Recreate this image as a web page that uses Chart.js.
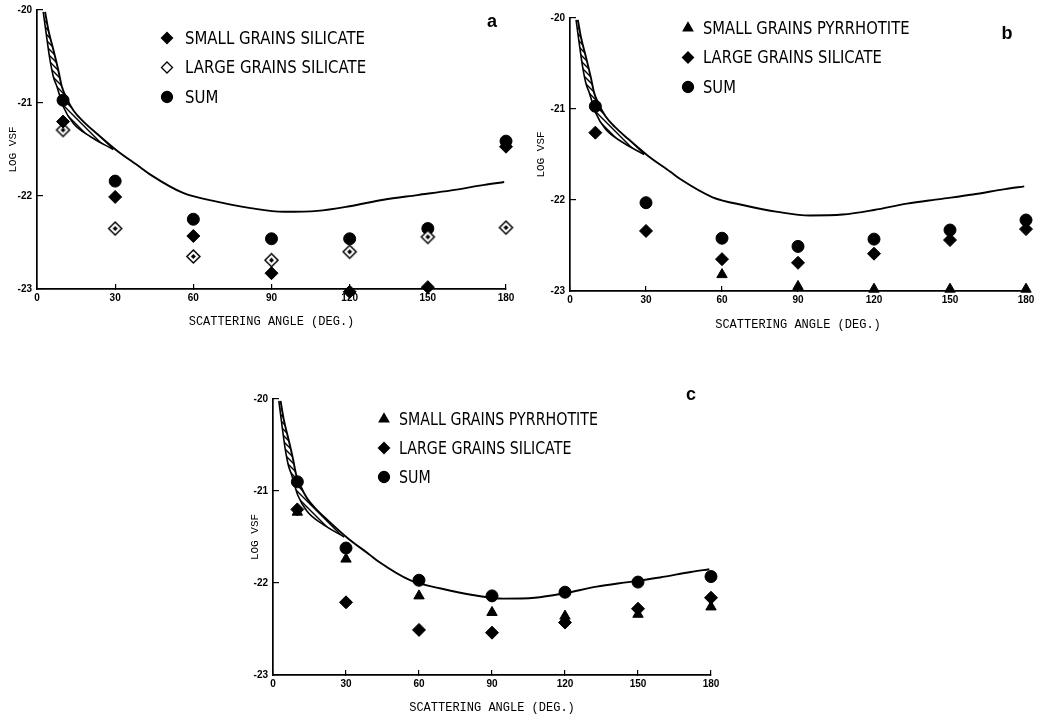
<!DOCTYPE html>
<html>
<head>
<meta charset="utf-8">
<script src="https://cdn.jsdelivr.net/npm/chart.js@4.4.1/dist/chart.umd.min.js"></script>
<style>
  html, body { margin: 0; padding: 0; background: #fff; }
  body { width: 1054px; height: 718px; position: relative; overflow: hidden; }
  canvas { position: absolute; }
</style>
</head>
<body>
<canvas id="chartA" width="530" height="335" style="left:0;top:0"></canvas>
<canvas id="chartB" width="534" height="335" style="left:520px;top:0"></canvas>
<canvas id="chartC" width="500" height="348" style="left:230px;top:370px"></canvas>
<script>
// Angles where the model points sit
const angles = [10, 30, 60, 90, 120, 150, 180];
const xTicks = [0, 30, 60, 90, 120, 150, 180];
const yTicks = [-23, -22, -21, -20];

// Panel a
const aSmallSilicate = [-21.20, -22.01, -22.43, -22.83, -23.03, -22.98, -21.47];
const aLargeSilicate = [-21.29, -22.35, -22.65, -22.69, -22.60, -22.44, -22.34];
const aSum = [-20.97, -21.84, -22.25, -22.46, -22.46, -22.35, -21.41];

// Panel b
const bSmallPyrrhotite = [null, null, -22.82, -22.95, -22.98, -22.98, -22.98];
const bLargeSilicate = [-21.26, -22.34, -22.65, -22.69, -22.59, -22.44, -22.32];
const bSum = [-20.97, -22.03, -22.42, -22.51, -22.43, -22.33, -22.22];

// Panel c
const cSmallPyrrhotite = [-21.23, -21.74, -22.14, -22.32, -22.36, -22.34, -22.26];
const cLargeSilicate = [-21.20, -22.21, -22.51, -22.54, -22.43, -22.28, -22.16];
const cSum = [-20.90, -21.62, -21.97, -22.14, -22.10, -21.99, -21.93];

// Observed VSF curve (upper edge of the hatched band at small angles)
const curveAngle = [3.1, 4.4, 6.3, 8.2, 9.5, 11.4, 14, 17.8, 23, 30.6, 39.6, 43.5, 56.3, 69, 82, 94.7, 107.6, 120, 133, 146, 159, 171.7, 179.3];
const curveLog = [-20.02, -20.22, -20.43, -20.65, -20.82, -20.95, -21.08, -21.20, -21.33, -21.51, -21.69, -21.77, -21.97, -22.06, -22.13, -22.17, -22.16, -22.11, -22.04, -21.99, -21.94, -21.88, -21.85];

// Lower edge of the hatched band
const bandAngle = [2.4, 3.7, 5, 6.3, 7.6, 10.1, 14, 20.4, 29.3];
const bandLow = [-20.02, -20.29, -20.54, -20.72, -20.82, -21.04, -21.22, -21.36, -21.50];

function pts(xs, ys) {
  return xs.map((x, i) => ({ x: x, y: ys[i] }));
}

function makeOpenDiamond(r) {
  const c = document.createElement('canvas');
  const s = Math.ceil(2 * r + 4);
  c.width = s; c.height = s;
  const g = c.getContext('2d');
  g.translate(s / 2, s / 2);
  g.beginPath();
  g.moveTo(0, -r); g.lineTo(r, 0); g.lineTo(0, r); g.lineTo(-r, 0);
  g.closePath();
  g.fillStyle = '#fff'; g.fill();
  g.lineWidth = 1.5; g.strokeStyle = '#000'; g.stroke();
  g.beginPath();
  g.moveTo(0, -2.5); g.lineTo(2.5, 0); g.lineTo(0, 2.5); g.lineTo(-2.5, 0);
  g.closePath();
  g.fillStyle = '#000'; g.fill();
  return c;
}

function makeHatch() {
  const c = document.createElement('canvas');
  c.width = 6; c.height = 6;
  const g = c.getContext('2d');
  g.strokeStyle = '#000'; g.lineWidth = 1.4;
  g.beginPath();
  g.moveTo(0, 0); g.lineTo(6, 6);
  g.moveTo(-1, 5); g.lineTo(1, 7);
  g.moveTo(5, -1); g.lineTo(7, 1);
  g.stroke();
  return g.createPattern(c, 'repeat');
}

const markers = {
  diamond: { style: 'rectRot', radius: 6.5, fill: '#000', legend: 'rectRot' },
  openDiamond: { style: makeOpenDiamond(6.5), radius: 6.5, fill: '#fff', legend: 'rectRot' },
  circle: { style: 'circle', radius: 6, fill: '#000', legend: 'circle' },
  triangle: { style: 'triangle', radius: 6, fill: '#000', legend: 'triangle' }
};

// draws the legend rows and the panel letter inside the plot
const legendRows = {
  id: 'legendRows',
  afterDraw(chart, args, opts) {
    const ctx = chart.ctx;
    ctx.save();
    opts.rows.forEach((row, i) => {
      const m = markers[row.marker];
      const y = opts.y + i * opts.gap;
      ctx.fillStyle = m.fill;
      ctx.strokeStyle = '#000';
      ctx.lineWidth = 1.3;
      Chart.helpers.drawPoint(ctx, { pointStyle: m.legend, radius: opts.markerRadius, borderWidth: 1.3, rotation: 0 }, opts.x, y);
      ctx.fillStyle = '#000';
      ctx.font = opts.fontSize + "px 'DejaVu Sans', sans-serif";
      ctx.textBaseline = 'middle';
      ctx.save();
      ctx.translate(opts.x + opts.textGap, y);
      ctx.scale(opts.squeeze, 1);
      ctx.fillText(row.label, 0, 1);
      ctx.restore();
    });
    ctx.font = "bold 18px 'Liberation Sans', Arial, sans-serif";
    ctx.textBaseline = 'alphabetic';
    ctx.textAlign = 'center';
    ctx.fillText(opts.tag.text, opts.tag.x, opts.tag.y);
    ctx.restore();
  }
};

function vsfChart(id, p) {
  const datasets = p.series.map(s => {
    const m = markers[s.marker];
    return {
      label: s.label,
      data: pts(angles, s.values),
      pointStyle: m.style,
      pointRadius: m.radius,
      pointHoverRadius: m.radius,
      pointBackgroundColor: m.fill,
      pointBorderColor: '#000',
      pointBorderWidth: 1,
      showLine: false,
      clip: false
    };
  });
  datasets.push({
    label: 'observed',
    data: pts(curveAngle, curveLog),
    showLine: true,
    borderColor: '#000',
    borderWidth: 1.9,
    pointRadius: 0,
    cubicInterpolationMode: 'monotone',
    fill: false,
    clip: false
  });
  datasets.push({
    label: 'band',
    data: pts(bandAngle, bandLow),
    showLine: true,
    borderColor: '#000',
    borderWidth: 1.6,
    pointRadius: 0,
    cubicInterpolationMode: 'monotone',
    fill: '-1',
    backgroundColor: makeHatch(),
    clip: false
  });

  const tickFont = { family: "'Liberation Sans', Arial, sans-serif", size: 10, weight: 'bold' };
  const titleFont = { family: "'Liberation Mono', monospace", size: 12 };

  return new Chart(document.getElementById(id), {
    type: 'scatter',
    data: { datasets: datasets },
    plugins: [legendRows],
    options: {
      responsive: false,
      animation: false,
      events: [],
      layout: { padding: { left: 0, top: p.top, right: p.right, bottom: 0 } },
      plugins: {
        legend: { display: false },
        tooltip: { enabled: false },
        legendRows: p.legend
      },
      scales: {
        x: {
          type: 'linear',
          min: 0,
          max: 180,
          afterBuildTicks: s => { s.ticks = xTicks.map(v => ({ value: v })); },
          afterFit: s => { s.height = p.xHeight; },
          ticks: { font: tickFont, color: '#000', padding: 8, maxRotation: 0 },
          grid: { drawOnChartArea: false, tickLength: -5, color: '#000', lineWidth: 1.2 },
          border: { display: true, color: '#000', width: 1.7 },
          title: { display: true, text: 'SCATTERING ANGLE (DEG.)', font: titleFont, color: '#000', padding: { top: 0, bottom: p.xTitlePad } }
        },
        y: {
          type: 'linear',
          min: -23,
          max: -20,
          afterBuildTicks: s => { s.ticks = yTicks.map(v => ({ value: v })); },
          afterFit: s => { s.width = p.yWidth; s.paddingTop = 0; s.paddingBottom = 0; },
          ticks: { font: tickFont, color: '#000', padding: 11 },
          grid: { drawOnChartArea: false, tickLength: -6, color: '#000', lineWidth: 1.2 },
          border: { display: true, color: '#000', width: 1.7 },
          title: { display: true, text: 'LOG VSF', font: { family: "'Liberation Mono', monospace", size: 11 }, color: '#000', padding: { top: p.yTitlePad, bottom: 0 } }
        }
      }
    }
  });
}

vsfChart('chartA', {
  top: 10, right: 24, xHeight: 46, yWidth: 37, xTitlePad: 6, yTitlePad: 6,
  series: [
    { label: 'SMALL GRAINS SILICATE', values: aSmallSilicate, marker: 'diamond' },
    { label: 'LARGE GRAINS SILICATE', values: aLargeSilicate, marker: 'openDiamond' },
    { label: 'SUM', values: aSum, marker: 'circle' }
  ],
  legend: {
    x: 167, y: 38, gap: 29.5, textGap: 18, fontSize: 18, squeeze: 0.83, markerRadius: 5.5,
    rows: [
      { label: 'SMALL GRAINS SILICATE', marker: 'diamond' },
      { label: 'LARGE GRAINS SILICATE', marker: 'openDiamond' },
      { label: 'SUM', marker: 'circle' }
    ],
    tag: { text: 'a', x: 492, y: 27 }
  }
});

vsfChart('chartB', {
  top: 18, right: 28, xHeight: 44, yWidth: 50, xTitlePad: 3, yTitlePad: 14,
  series: [
    { label: 'SMALL GRAINS PYRRHOTITE', values: bSmallPyrrhotite, marker: 'triangle' },
    { label: 'LARGE GRAINS SILICATE', values: bLargeSilicate, marker: 'diamond' },
    { label: 'SUM', values: bSum, marker: 'circle' }
  ],
  legend: {
    x: 168, y: 28, gap: 29.5, textGap: 15, fontSize: 18, squeeze: 0.82, markerRadius: 5.5,
    rows: [
      { label: 'SMALL GRAINS PYRRHOTITE', marker: 'triangle' },
      { label: 'LARGE GRAINS SILICATE', marker: 'diamond' },
      { label: 'SUM', marker: 'circle' }
    ],
    tag: { text: 'b', x: 487, y: 39 }
  }
});

vsfChart('chartC', {
  top: 29, right: 19, xHeight: 43, yWidth: 43, xTitlePad: 3, yTitlePad: 18,
  series: [
    { label: 'SMALL GRAINS PYRRHOTITE', values: cSmallPyrrhotite, marker: 'triangle' },
    { label: 'LARGE GRAINS SILICATE', values: cLargeSilicate, marker: 'diamond' },
    { label: 'SUM', values: cSum, marker: 'circle' }
  ],
  legend: {
    x: 154, y: 49, gap: 29, textGap: 15, fontSize: 18, squeeze: 0.79, markerRadius: 5.5,
    rows: [
      { label: 'SMALL GRAINS PYRRHOTITE', marker: 'triangle' },
      { label: 'LARGE GRAINS SILICATE', marker: 'diamond' },
      { label: 'SUM', marker: 'circle' }
    ],
    tag: { text: 'c', x: 461, y: 30 }
  }
});
</script>
</body>
</html>
